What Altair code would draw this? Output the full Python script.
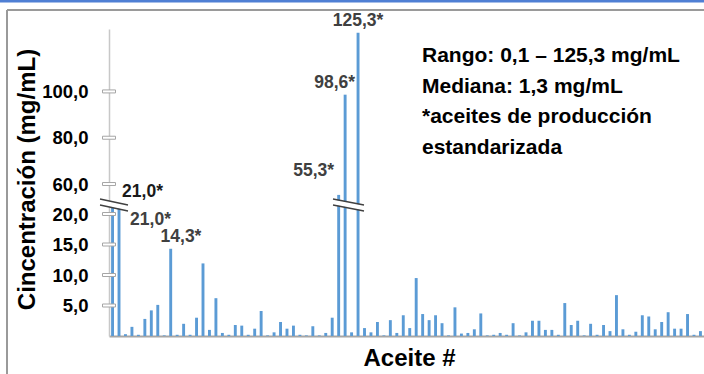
import altair as alt
import pandas as pd

FONT = "Liberation Sans, Arial, Helvetica, sans-serif"

# Concentración medida por aceite (mg/mL)
aceite = list(range(1, 93))
concentracion = [
    21.0, 21.0, 0.3, 1.5, 0.2, 2.8, 4.2, 5.1, 0.1, 14.3,
    0.2, 2.0, 0.2, 3.0, 11.9, 1.0, 6.2, 0.5, 0.2, 1.8,
    1.7, 0.2, 1.2, 4.1, 0.1, 0.6, 2.3, 1.2, 1.7, 0.2,
    0.1, 1.6, 0.1, 0.5, 3.0, 55.3, 98.6, 0.6, 125.3, 1.3,
    0.6, 2.3, 0.1, 2.6, 0.5, 3.4, 1.3, 9.5, 3.6, 2.6,
    3.4, 2.1, 0.1, 4.7, 0.4, 0.5, 1.1, 3.7, 0.1, 0.2,
    0.5, 0.2, 2.1, 0.1, 0.6, 2.5, 2.5, 1.0, 1.0, 0.2,
    5.4, 1.8, 2.5, 0.1, 2.0, 0.2, 1.8, 0.8, 6.7, 1.1,
    0.2, 0.7, 3.4, 3.2, 1.1, 2.3, 3.9, 1.2, 1.2, 3.6,
    0.2, 0.8,
]
# aceites de producción estandarizada (etiquetados con *)
estandarizados = [1, 2, 10, 36, 37, 39]
marcas_eje = [5, 10, 15, 20, 60, 80, 100]
notas = [
    "Rango: 0,1 – 125,3 mg/mL",
    "Mediana: 1,3 mg/mL",
    "*aceites de producción",
    "estandarizada",
]

# Eje cortado: tramo inferior 0–21,5 a escala real, tramo superior desde 51 comprimido
CORTE_INF = 21.5
CORTE_SUP = 51.0
FACTOR = 0.3795
TOPE = 50.33


def a_pantalla(v):
    return v if v <= CORTE_INF else CORTE_INF + (v - CORTE_SUP) * FACTOR


expr_d = f"datum.c <= {CORTE_INF} ? datum.c : {CORTE_INF} + (datum.c - {CORTE_SUP}) * {FACTOR}"
expr_inv = f"datum.value <= {CORTE_INF} ? datum.value : {CORTE_SUP} + (datum.value - {CORTE_INF}) / {FACTOR}"
label_expr = f"replace(format({expr_inv}, '.1f'), '.', ',')"

df = pd.DataFrame({"aceite": aceite, "c": concentracion})
df_marcas = pd.DataFrame({"c": marcas_eje})
uno = pd.DataFrame({"k": [0]})

W, H = 595, 307

y_scale = alt.Scale(domain=[0, TOPE], nice=False, zero=True)
x_scale = alt.Scale(paddingInner=0.55, paddingOuter=0.325)

base = alt.Chart(df).transform_calculate(d=expr_d)

barras = base.mark_bar(color="#5b9bd5").encode(
    x=alt.X(
        "aceite:O",
        scale=x_scale,
        axis=alt.Axis(
            labels=False, ticks=False, domainColor="#a6a6a6", domainWidth=2,
            title="Aceite #", titleFont=FONT, titleFontSize=24, titleFontWeight="bold",
            titleColor="black", titleX=300, titleY=29, titleAlign="center",
            titleBaseline="alphabetic",
        ),
    ),
    y=alt.Y(
        "d:Q",
        scale=y_scale,
        axis=alt.Axis(
            values=[a_pantalla(v) for v in marcas_eje], labelExpr=label_expr,
            ticks=False, grid=False, domainColor="#c8c8c8", domainWidth=1.5,
            labelPadding=21, labelFont=FONT, labelFontSize=18.5, labelFontWeight="bold",
            labelColor="black", labelOverlap=False,
            title="Cincentración (mg/mL)", titleFont=FONT, titleFontSize=24,
            titleFontWeight="bold", titleColor="black", titleX=-82, titleY=150,
            titleAngle=270, titleAlign="center", titleBaseline="middle",
        ),
    ),
)

texto_valor = "replace(format(datum.c, '.1f'), '.', ',') + '*'"


def etiqueta(idx, dx, dy, color="#404040", align="center"):
    return (
        base.transform_filter(alt.datum.aceite == idx)
        .transform_calculate(t=texto_valor)
        .mark_text(font=FONT, fontSize=17.5, fontWeight="bold", color=color,
                   align=align, baseline="middle", dx=dx, dy=dy)
        .encode(x=alt.X("aceite:O", scale=x_scale), y=alt.Y("d:Q", scale=y_scale), text="t:N")
    )


etiquetas = [
    etiqueta(1, 30, -16, color="#1a1a1a"),
    etiqueta(2, 31.5, 11.6),
    etiqueta(10, 10.3, -11.3),
    etiqueta(36, -25, -24.4),
    etiqueta(37, 10, -12, align="right"),
    etiqueta(39, 0, -12),
]

# marcas huecas sobre el eje vertical
marcas = (
    alt.Chart(df_marcas)
    .transform_calculate(d=expr_d)
    .mark_tick(orient="horizontal", size=13, thickness=3, fill="white",
               stroke="#a6a6a6", strokeWidth=1, opacity=1)
    .encode(y=alt.Y("d:Q", scale=y_scale), x=alt.value(0))
)


def corte(x0, x1, y0, y1):
    blanco = alt.Chart(uno).mark_rule(color="white", strokeWidth=5).encode(
        x=alt.value(x0), x2=alt.value(x1), y=alt.value(y0), y2=alt.value(y1))
    sup = alt.Chart(uno).mark_rule(color="#404040", strokeWidth=1.3).encode(
        x=alt.value(x0), x2=alt.value(x1), y=alt.value(y0 - 3), y2=alt.value(y1 - 3))
    inf = alt.Chart(uno).mark_rule(color="#404040", strokeWidth=1.3).encode(
        x=alt.value(x0), x2=alt.value(x1), y=alt.value(y0 + 3), y2=alt.value(y1 + 3))
    return [blanco, sup, inf]


cortes = corte(-9, 19, 173, 179) + corte(224, 255, 173, 179)

notas_txt = alt.Chart(uno).mark_text(
    font=FONT, fontSize=21, fontWeight="bold", color="black",
    align="left", baseline="alphabetic", lineHeight=30.5,
).encode(x=alt.value(313), y=alt.value(33), text=alt.value(notas))

# marco exterior
marco = [
    alt.Chart(uno).mark_rule(color="#4f7fd4", strokeWidth=3).encode(
        x=alt.value(-109), x2=alt.value(W), y=alt.value(-28), y2=alt.value(-28)),
    alt.Chart(uno).mark_rule(color="#9a9a9a", strokeWidth=2).encode(
        x=alt.value(-102), x2=alt.value(W), y=alt.value(-19), y2=alt.value(-19)),
    alt.Chart(uno).mark_rule(color="#9a9a9a", strokeWidth=2).encode(
        x=alt.value(-102), x2=alt.value(-102), y=alt.value(-19), y2=alt.value(H + 40)),
]

chart = (
    alt.layer(barras, *etiquetas, marcas, *cortes, notas_txt, *marco)
    .properties(
        width=W, height=H,
        padding={"left": 109, "top": 29, "right": 0, "bottom": 38},
        autosize=alt.AutoSizeParams(type="none"),
        background="white",
    )
    .configure_view(stroke=None)
)

chart.save("out.html", embed_options={"renderer": "svg", "actions": False})
